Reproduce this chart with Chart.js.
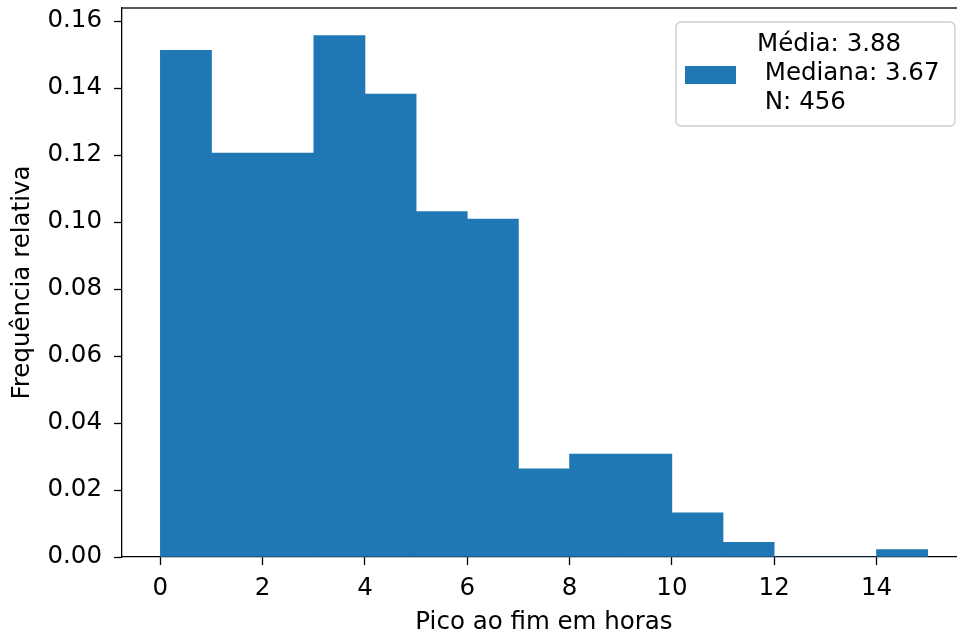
<!DOCTYPE html>
<html>
<head>
<meta charset="utf-8">
<script src="https://cdn.jsdelivr.net/npm/chart.js@4/dist/chart.umd.min.js"></script>
<style>
  html, body { margin: 0; padding: 0; overflow: hidden; background: #ffffff; }
  #wrap { position: relative; width: 980px; height: 637px; }
</style>
</head>
<body>
<div id="wrap"><canvas id="c" width="980" height="637"></canvas></div>
<script>
// Histogram of "pico ao fim" durations (hours), bins of width 1
const binStarts = [0, 1, 2, 3, 4, 5, 6, 7, 8, 9, 10, 11, 12, 13, 14];
const relFreq   = [0.1513, 0.1206, 0.1206, 0.1557, 0.1382, 0.1031, 0.1009,
                   0.0263, 0.0307, 0.0307, 0.0132, 0.0044, 0, 0, 0.0022];
const xTickValues = [0, 2, 4, 6, 8, 10, 12, 14];
const yTickValues = [0, 0.02, 0.04, 0.06, 0.08, 0.10, 0.12, 0.14, 0.16];
const meanHours = 3.88;
const medianHours = 3.67;
const sampleSize = 456;

const FONT = 'DejaVu Sans';
const FS = 24.5;
const BAR_COLOR = '#1f77b4';

const legendLines = [
  'Média: ' + meanHours.toFixed(2),
  ' Mediana: ' + medianHours.toFixed(2),
  ' N: ' + sampleSize
];

// top spine + legend box drawn on top of the chart
const framePlugin = {
  id: 'frame',
  afterDraw(chart) {
    const ctx = chart.ctx;
    const a = chart.chartArea;
    const xs = chart.scales.x;
    ctx.save();
    ctx.fillStyle = '#000';
    ctx.fillRect(a.left, a.top - 0.65, xs.right - a.left, 1.3);

    // legend
    const bx = xs.right - 290, by = a.top + 14, bw = 279, bh = 104, r = 5;
    ctx.beginPath();
    ctx.moveTo(bx + r, by);
    ctx.lineTo(bx + bw - r, by);
    ctx.arcTo(bx + bw, by, bx + bw, by + r, r);
    ctx.lineTo(bx + bw, by + bh - r);
    ctx.arcTo(bx + bw, by + bh, bx + bw - r, by + bh, r);
    ctx.lineTo(bx + r, by + bh);
    ctx.arcTo(bx, by + bh, bx, by + bh - r, r);
    ctx.lineTo(bx, by + r);
    ctx.arcTo(bx, by, bx + r, by, r);
    ctx.closePath();
    ctx.fillStyle = 'rgba(255,255,255,0.8)';
    ctx.fill();
    ctx.strokeStyle = '#cccccc';
    ctx.lineWidth = 1.3;
    ctx.stroke();

    const ds = chart.data.datasets[0];
    ctx.fillStyle = ds.backgroundColor;
    ctx.fillRect(bx + 9, by + 44, 51, 18);

    ctx.fillStyle = '#000';
    ctx.font = FS + 'px "' + FONT + '"';
    ctx.textAlign = 'left';
    ctx.textBaseline = 'middle';
    const lines = ds.label.split('\n');
    lines.forEach((t, i) => {
      ctx.fillText(t, bx + 81, by + 23 + i * 29);
    });
    ctx.restore();
  }
};

new Chart(document.getElementById('c'), {
  type: 'bar',
  data: {
    datasets: [{
      label: legendLines.join('\n'),
      data: binStarts.map((s, i) => ({ x: s + 0.5, y: relFreq[i] })),
      backgroundColor: BAR_COLOR,
      borderWidth: 0,
      barPercentage: 1.0,
      categoryPercentage: 1.0
    }]
  },
  options: {
    responsive: false,
    devicePixelRatio: 1,
    animation: false,
    layout: { padding: { top: 8, right: 14, left: 0, bottom: 0 } },
    plugins: {
      legend: { display: false },
      tooltip: { enabled: false }
    },
    scales: {
      x: {
        type: 'linear',
        offset: false,
        min: -0.75,
        max: 15.75,
        afterBuildTicks(scale) { scale.ticks = xTickValues.map(v => ({ value: v })); },
        afterFit(scale) {
          scale.height = 80;
          scale.paddingLeft = 0; scale.paddingRight = 0;
        },
        grid: { offset: false, drawOnChartArea: false, drawTicks: true, tickLength: 8, tickColor: '#000', tickWidth: 1.3 },
        border: { display: true, color: '#000', width: 1.3 },
        ticks: {
          color: '#000',
          font: { family: FONT, size: FS },
          padding: 9,
          maxRotation: 0,
          autoSkip: false,
          callback: v => String(v)
        },
        title: {
          display: true,
          text: 'Pico ao fim em horas',
          color: '#000',
          font: { family: FONT, size: FS },
          padding: { top: 0, bottom: 0 }
        }
      },
      y: {
        min: 0,
        max: 0.1639,
        afterBuildTicks(scale) { scale.ticks = yTickValues.map(v => ({ value: v })); },
        afterFit(scale) {
          scale.width = 122;
          scale.paddingTop = 0; scale.paddingBottom = 0;
        },
        grid: { drawOnChartArea: false, drawTicks: true, tickLength: 8, tickColor: '#000', tickWidth: 1.3 },
        border: { display: true, color: '#000', width: 1.3 },
        ticks: {
          color: '#000',
          font: { family: FONT, size: FS },
          padding: 12,
          autoSkip: false,
          callback: v => v.toFixed(2)
        },
        title: {
          display: true,
          text: 'Frequência relativa',
          color: '#000',
          font: { family: FONT, size: FS },
          padding: { top: 8, bottom: 8 }
        }
      }
    }
  },
  plugins: [framePlugin]
});
</script>
</body>
</html>
